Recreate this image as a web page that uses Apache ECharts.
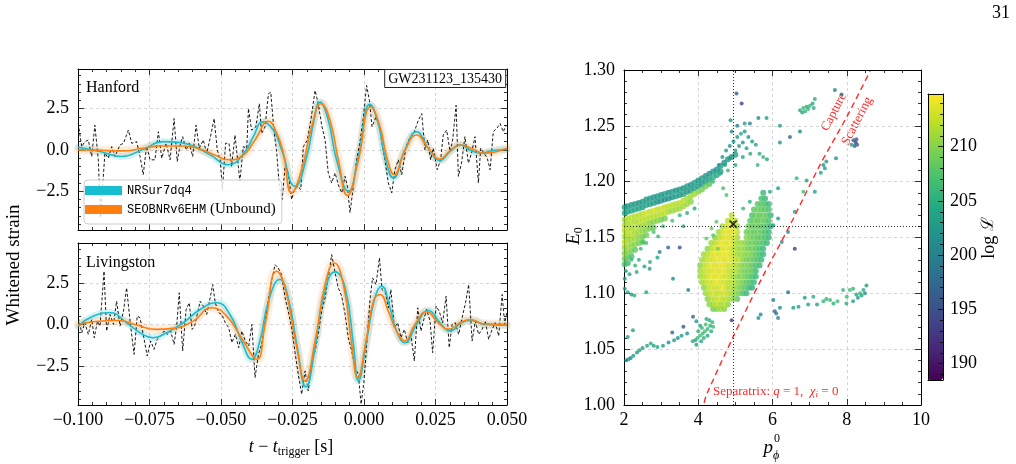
<!DOCTYPE html>
<html lang="en">
<head>
<meta charset="UTF-8">
<title>GW231123 whitened strain and E0 vs p_phi</title>
<style>
  html, body { margin: 0; padding: 0; background: #fff; }
  #main { width: 1016px; height: 464px; }
</style>
</head>
<body>
<div id="main"></div>
<script src="https://cdn.jsdelivr.net/npm/echarts@6/dist/echarts.min.js"></script>
<script>
// ---- waveform panels (time in ms, strain in whitened units) ----
var tHanford = [-99.9,-98.7,-97.6,-96.4,-95.2,-94.1,-92.9,-92.1,-90.6,-89.4,-88.2,-87.1,-85.3,-84.1,-82.4,-81.2,-79.5,-78.3,-77.2,-76.0,-74.8,-73.1,-71.9,-70.7,-69.2,-67.8,-66.4,-65.3,-64.3,-63.4,-62.2,-61.1,-59.9,-58.7,-57.6,-56.2,-55.0,-53.8,-52.4,-51.3,-50.3,-49.5,-48.4,-47.2,-46.3,-45.1,-43.4,-42.2,-41.0,-40.4,-39.3,-37.8,-36.6,-35.8,-34.6,-33.4,-32.6,-31.5,-30.5,-29.6,-28.6,-27.6,-26.5,-25.3,-24.5,-23.3,-22.1,-21.2,-19.8,-18.6,-17.1,-16.0,-14.8,-13.6,-12.5,-11.3,-10.1,-9.0,-7.8,-6.6,-5.8,-4.9,-3.7,-2.6,-1.4,-0.2,0.9,1.9,2.8,4.2,5.4,6.3,7.3,8.5,9.7,10.8,12.0,13.2,14.7,15.9,17.0,18.2,19.0,20.2,21.3,22.3,23.3,24.2,25.6,26.8,27.7,28.9,30.1,31.0,32.2,33.0,34.1,35.3,36.5,37.6,38.8,40.0,40.8,42.0,43.1,44.1,45.2,46.4,47.6,48.7,49.7];
var hHanford = [1.6,0.2,0.5,0.6,-0.4,1.5,-0.6,-4.1,-0.2,-0.5,0.2,-0.4,0.3,0.4,1.2,0.4,0.5,-0.4,-1.5,0.24,-0.6,-0.6,1.1,-0.5,0.4,-0.6,1.9,-0.7,0.3,0.8,0,0.4,-0.4,1.5,0.1,0.6,-0.2,0.7,1.9,0,-0.6,-2.4,0.4,0.4,-1.0,0.9,-1.9,0.2,0.1,2.5,1.2,1.4,2.8,1.0,1.4,3.4,3.5,1.2,-0.2,-2.2,-3.0,-1.0,-1.4,-3.0,-2.5,-2.2,-2.4,0.2,0.6,1.8,3.6,2.8,1.5,0.6,-1.4,-2.0,-1.4,-2.1,-2.6,-1.6,-2.2,-3.8,-2.2,-0.6,0.5,2.0,3.9,3.0,1.4,2.0,1.4,0.4,-0.6,-2.0,-2.6,-1.2,-0.6,-1.5,0.2,0.7,0.8,1.4,1.8,2.2,0,0.6,-0.6,0.1,-1.2,-0.6,0.9,1.2,-0.1,0.6,2.7,-1.6,-0.8,0.8,-0.8,-0.2,0.8,-2.0,0.1,-0.2,-0.5,-1.2,1.1,1.3,1.6,1.1,1.5];
var tLivingston = [-99.9,-98.7,-97.6,-96.4,-95.2,-94.3,-93.2,-92.3,-90.9,-90.0,-88.8,-87.6,-86.5,-85.3,-84.1,-83.0,-81.8,-80.4,-79.3,-78.3,-77.2,-75.8,-74.6,-73.4,-72.3,-71.1,-69.9,-68.8,-67.6,-66.4,-65.5,-64.6,-63.4,-62.2,-61.1,-60.1,-59.2,-58.3,-57.3,-56.2,-55.0,-53.8,-52.9,-52.0,-50.8,-49.7,-48.5,-47.3,-46.2,-45.0,-43.8,-42.7,-41.5,-40.3,-39.2,-38.1,-36.9,-35.8,-34.6,-33.4,-32.3,-31.1,-30.0,-28.8,-27.6,-26.5,-25.3,-24.1,-23.0,-21.8,-20.6,-19.5,-18.3,-17.1,-16.0,-14.8,-13.6,-12.5,-11.3,-10.1,-9.0,-7.8,-6.6,-5.5,-4.3,-3.1,-2.0,-1.0,0.0,1.2,2.1,3.0,4.2,5.4,6.3,7.5,8.5,9.4,10.6,11.8,12.9,14.1,15.3,16.4,17.6,18.8,19.9,21.1,21.9,23.1,24.0,25.2,26.3,27.5,28.7,29.8,30.8,31.9,33.1,34.3,35.5,36.6,37.8,38.9,40.1,41.3,42.4,43.6,44.8,45.9,47.1,48.3,49.2,49.9];
var hLivingston = [0.4,-0.5,0.1,-0.6,0.3,-0.8,0.2,-0.1,3.2,-0.4,0.6,0,1.4,-0.1,0.8,2.2,0.2,-1.8,0.5,0.4,-0.6,-1.9,-1.0,-1.5,-0.9,-0.7,-0.4,-0.6,-0.4,-1.2,-0.1,1.9,-1.6,0.9,1.3,-0.3,-0.1,0.6,1.4,1.1,0.6,1.6,2.4,1.3,0.7,0.6,0.1,-0.2,-1.1,-0.6,-1.4,-0.4,-1.0,-1.3,0,-3.2,-1.8,-1.2,0.1,1.6,2.6,3.6,3.4,3.0,1.6,0.8,-0.2,-1.7,-3.0,-4.2,-2.8,-4.0,-2.4,-1.6,-0.6,0.8,1.6,2.8,4.2,3.1,2.2,1.7,0.6,-0.8,-1.6,-2.6,-3.0,-4.8,-3.4,-0.6,1.5,2.8,2.4,4.0,2.1,1.9,1.0,2.1,-0.2,0.1,-0.8,-0.3,-1.1,-0.6,-2.2,1.0,-0.4,0.4,0.9,0.2,-1.7,1.1,0.8,0.1,1.7,-1.4,0,0.1,-0.6,0.4,1.3,2.4,-1.0,0.2,-0.6,-0.3,0.2,-0.9,-0.3,0.1,-0.7,1.8,0,0.7];

// model medians [t ms, strain]
var nrHanford = [[-99.9,0.16],[-92.3,-0.1],[-84.7,-0.4],[-77.2,0.04],[-70.2,0.5],[-64.3,0.44],[-59.7,0.24],[-53.8,-0.3],[-47.4,-0.9],[-41.6,-0.1],[-38.7,0.8],[-35.4,1.7],[-31.7,1.2],[-28.8,0],[-24.1,-2.2],[-20.0,-0.4],[-17.7,1.6],[-15.4,2.9],[-12.5,1.8],[-9.6,-0.6],[-5.4,-2.5],[-2.0,-0.4],[2.1,2.76],[5.0,1.6],[7.3,-0.4],[10.3,-1.7],[14.3,0],[18.4,1.1],[22.5,0.1],[26.6,-0.64],[30.1,-0.1],[33.6,0.3],[37.1,0],[40.6,-0.2],[45.2,-0.04],[49.9,0.04]];
var seobHanford = [[-99.9,0],[-92.3,-0.02],[-84.7,-0.06],[-77.2,0.1],[-71.3,0.24],[-63.2,0.24],[-57.3,0.04],[-51.5,-0.36],[-47.4,-0.6],[-42.8,-0.4],[-38.1,0.6],[-33.4,1.74],[-30.5,1.0],[-28.2,-0.2],[-25.3,-2.6],[-21.8,-1.2],[-18.3,1.4],[-15.0,2.8],[-11.9,1.8],[-9.0,-0.6],[-5.8,-2.76],[-2.2,-0.8],[2.4,2.6],[5.6,1.4],[7.9,-0.4],[10.6,-1.5],[14.3,-0.04],[18.4,0.9],[22.5,0.1],[26.6,-0.56],[30.1,-0.04],[33.6,0.3],[38.2,0.04],[41.7,-0.2],[49.9,0.1]];
var nrLivingston = [[-99.9,-0.1],[-94.6,0.5],[-88.8,0.7],[-83.0,0.1],[-78.3,-0.5],[-73.7,-0.8],[-69.0,-0.5],[-63.2,0.1],[-57.3,0.9],[-51.5,1.3],[-46.9,0.6],[-42.8,-1.0],[-39.3,-2.1],[-36.4,-1.0],[-33.4,1.4],[-29.4,2.7],[-26.5,1.6],[-23.5,-1.2],[-20.3,-3.76],[-17.1,-1.4],[-14.2,1.6],[-10.1,3.16],[-6.6,2.2],[-3.7,-1.2],[-2.0,-3.4],[0.9,-1.0],[3.8,1.6],[6.2,2.3],[9.1,1.0],[11.4,-0.4],[14.3,-1.1],[18.4,0],[22.5,0.84],[26.6,0.1],[30.1,-0.4],[34.1,0.1],[37.6,0.24],[42.3,0],[49.9,-0.04]];
var seobLivingston = [[-99.9,0],[-94.6,0.16],[-85.9,0.24],[-79.5,-0.04],[-72.5,-0.3],[-66.7,-0.24],[-59.7,0.2],[-53.3,1.0],[-48.0,0.5],[-42.2,-1.0],[-37.5,-2.1],[-34.6,0],[-30.5,3.2],[-27.6,2.2],[-23.5,-1.4],[-20.6,-3.4],[-17.1,-1.0],[-13.6,2.4],[-10.4,3.7],[-7.2,2.4],[-4.3,-1.2],[-2.2,-3.2],[0.7,-1.0],[3.3,1.4],[5.6,1.8],[8.5,0.8],[11.4,-0.4],[14.3,-1.0],[17.8,0],[21.9,0.76],[26.0,0.1],[29.5,-0.3],[33.6,0.1],[37.1,0.3],[41.7,0.04],[49.9,0]];

var strainTicks = [-2.5, 0, 2.5];
var strainMinor = [-4.5,-4,-3.5,-3,-2,-1.5,-1,-0.5,0.5,1,1.5,2,3,3.5,4,4.5];

// ---- posterior samples [p_phi, E0, logL] ----
var bandPts = [
  [2.02,1.177,203],[2.02,1.172,204],[2.02,1.166,211],[2.02,1.161,212],[2.02,1.156,212],[2.02,1.151,211],[2.02,1.146,212],[2.02,1.141,211],[2.02,1.136,210],[2.02,1.131,209],[2.02,1.126,207],
  [2.1,1.178,203],[2.1,1.173,204],[2.1,1.167,212],[2.1,1.162,211],[2.1,1.157,212],[2.1,1.152,212],[2.1,1.147,211],[2.1,1.142,211],[2.1,1.137,210],[2.1,1.132,208],[2.1,1.127,206],
  [2.2,1.179,202],[2.2,1.174,204],[2.2,1.168,212],[2.2,1.163,212],[2.2,1.158,211],[2.2,1.153,212],[2.2,1.148,211],[2.2,1.143,210],[2.2,1.138,209],[2.2,1.133,207],
  [2.3,1.180,203],[2.3,1.175,204],[2.3,1.169,212],[2.3,1.164,211],[2.3,1.159,212],[2.3,1.154,211],[2.3,1.149,211],[2.3,1.144,210],[2.3,1.139,208],
  [2.4,1.181,202],[2.4,1.176,204],[2.4,1.170,212],[2.4,1.165,212],[2.4,1.160,211],[2.4,1.155,211],[2.4,1.150,210],[2.4,1.145,209],
  [2.5,1.182,203],[2.5,1.177,203],[2.5,1.171,212],[2.5,1.166,212],[2.5,1.161,211],[2.5,1.156,210],[2.5,1.151,209],[2.5,1.146,208],
  [2.6,1.184,202],[2.6,1.179,204],[2.6,1.172,213],[2.6,1.167,212],[2.6,1.162,211],[2.6,1.157,210],[2.6,1.152,209],
  [2.7,1.185,203],[2.7,1.180,203],[2.7,1.173,212],[2.7,1.168,212],[2.7,1.163,210],[2.7,1.158,209],
  [2.8,1.186,202],[2.8,1.181,203],[2.8,1.174,213],[2.8,1.169,212],[2.8,1.164,210],[2.8,1.159,209],
  [2.9,1.187,203],[2.9,1.182,201],[2.9,1.175,212],[2.9,1.170,212],[2.9,1.165,210],
  [3.0,1.188,202],[3.0,1.183,202],[3.0,1.176,213],[3.0,1.171,212],[3.0,1.166,209],
  [3.1,1.189,203],[3.1,1.184,201],[3.1,1.177,212],[3.1,1.172,212],[3.1,1.167,209],
  [3.2,1.190,202],[3.2,1.185,202],[3.2,1.178,212],[3.2,1.173,211],
  [3.3,1.191,203],[3.3,1.186,202],[3.3,1.179,212],[3.3,1.174,211],
  [3.4,1.192,202],[3.4,1.187,203],[3.4,1.180,212],[3.4,1.175,211],
  [3.5,1.193,203],[3.5,1.188,202],[3.5,1.181,212],[3.5,1.176,211],
  [3.6,1.194,202],[3.6,1.189,203],[3.6,1.183,212],[3.6,1.178,211],
  [3.7,1.196,203],[3.7,1.191,202],[3.7,1.185,211],[3.7,1.180,211],
  [3.8,1.197,202],[3.8,1.192,203],[3.8,1.187,211],[3.8,1.182,210],
  [3.9,1.199,203],[3.9,1.194,203],[3.9,1.189,211],
  [4.0,1.201,202],[4.0,1.196,203],[4.0,1.191,210],
  [4.1,1.203,203],[4.1,1.198,202],[4.1,1.193,209],
  [4.2,1.205,202],[4.2,1.200,203],[4.2,1.196,209],
  [4.3,1.207,202],[4.3,1.202,204],[4.3,1.198,208],
  [4.4,1.209,202],[4.4,1.204,205],
  [4.5,1.211,202],[4.5,1.206,204],
  [4.6,1.214,203],[4.6,1.209,203],
  [4.7,1.217,202],[4.8,1.220,203],[4.9,1.222,202],[5.0,1.224,203]
];
var mainBlobPts = [
  [4.9,1.170,212],
  [4.8,1.165,212],[4.9,1.165,213],[5.0,1.165,212],
  [4.65,1.160,211],[4.75,1.160,213],[4.85,1.160,214],[4.95,1.160,213],[5.05,1.160,211],
  [4.55,1.155,211],[4.65,1.155,213],[4.75,1.155,214],[4.85,1.155,213],[4.95,1.155,214],[5.05,1.155,212],
  [4.45,1.150,210],[4.55,1.150,212],[4.65,1.150,213],[4.75,1.150,214],[4.85,1.150,213],[4.95,1.150,213],[5.05,1.150,211],
  [4.35,1.145,211],[4.45,1.145,212],[4.55,1.145,213],[4.65,1.145,214],[4.75,1.145,213],[4.85,1.145,214],[4.95,1.145,212],[5.05,1.145,211],
  [4.25,1.140,210],[4.35,1.140,212],[4.45,1.140,213],[4.55,1.140,214],[4.65,1.140,213],[4.75,1.140,214],[4.85,1.140,213],[4.95,1.140,212],[5.05,1.140,211],
  [4.15,1.135,211],[4.25,1.135,212],[4.35,1.135,213],[4.45,1.135,214],[4.55,1.135,213],[4.65,1.135,214],[4.75,1.135,214],[4.85,1.135,213],[4.95,1.135,212],[5.05,1.135,211],
  [4.1,1.130,211],[4.2,1.130,212],[4.3,1.130,213],[4.4,1.130,213],[4.5,1.130,214],[4.6,1.130,214],[4.7,1.130,213],[4.8,1.130,214],[4.9,1.130,213],[5.0,1.130,212],
  [4.05,1.125,210],[4.15,1.125,212],[4.25,1.125,213],[4.35,1.125,214],[4.45,1.125,213],[4.55,1.125,214],[4.65,1.125,214],[4.75,1.125,213],[4.85,1.125,213],[4.95,1.125,212],
  [4.05,1.120,211],[4.15,1.120,212],[4.25,1.120,213],[4.35,1.120,213],[4.45,1.120,214],[4.55,1.120,213],[4.65,1.120,214],[4.75,1.120,213],[4.85,1.120,212],[4.95,1.120,212],
  [4.05,1.115,211],[4.15,1.115,212],[4.25,1.115,213],[4.35,1.115,214],[4.45,1.115,213],[4.55,1.115,214],[4.65,1.115,213],[4.75,1.115,213],[4.85,1.115,212],[4.95,1.115,211],
  [4.1,1.110,211],[4.2,1.110,212],[4.3,1.110,213],[4.4,1.110,213],[4.5,1.110,214],[4.6,1.110,213],[4.7,1.110,213],[4.8,1.110,212],[4.9,1.110,212],
  [4.15,1.105,210],[4.25,1.105,212],[4.35,1.105,213],[4.45,1.105,213],[4.55,1.105,213],[4.65,1.105,214],[4.75,1.105,212],[4.85,1.105,212],[4.95,1.105,211],
  [4.2,1.100,211],[4.3,1.100,212],[4.4,1.100,213],[4.5,1.100,212],[4.6,1.100,213],[4.7,1.100,213],[4.8,1.100,212],[4.9,1.100,211],
  [4.25,1.095,210],[4.35,1.095,212],[4.45,1.095,212],[4.55,1.095,213],[4.65,1.095,212],[4.75,1.095,212],[4.85,1.095,211],
  [4.3,1.090,210],[4.4,1.090,211],[4.5,1.090,212],[4.6,1.090,211],[4.7,1.090,212],[4.8,1.090,210],
  [4.4,1.086,209],[4.5,1.086,210],[4.6,1.086,211],[4.7,1.086,210]
];
var rightBlobPts = [
  [5.75,1.190,206],
  [5.7,1.185,207],[5.8,1.185,206],
  [5.6,1.180,208],[5.7,1.180,208],[5.8,1.180,207],[5.9,1.180,206],
  [5.5,1.175,208],[5.6,1.175,209],[5.7,1.175,208],[5.8,1.175,208],[5.9,1.175,207],
  [5.45,1.170,207],[5.55,1.170,209],[5.65,1.170,208],[5.75,1.170,209],[5.85,1.170,208],[5.95,1.170,206],
  [5.4,1.165,208],[5.5,1.165,209],[5.6,1.165,208],[5.7,1.165,209],[5.8,1.165,208],[5.9,1.165,207],
  [5.35,1.160,209],[5.45,1.160,208],[5.55,1.160,209],[5.65,1.160,208],[5.75,1.160,208],[5.85,1.160,207],[5.95,1.160,205],
  [5.3,1.155,209],[5.4,1.155,209],[5.5,1.155,208],[5.6,1.155,209],[5.7,1.155,208],[5.8,1.155,207],[5.9,1.155,206],
  [5.3,1.150,210],[5.4,1.150,209],[5.5,1.150,209],[5.6,1.150,208],[5.7,1.150,208],[5.8,1.150,207],[5.9,1.150,206],
  [5.15,1.145,211],[5.25,1.145,210],[5.35,1.145,209],[5.45,1.145,209],[5.55,1.145,208],[5.65,1.145,208],[5.75,1.145,207],[5.85,1.145,206],
  [5.15,1.140,211],[5.25,1.140,210],[5.35,1.140,209],[5.45,1.140,209],[5.55,1.140,208],[5.65,1.140,207],[5.75,1.140,206],
  [5.15,1.135,211],[5.25,1.135,210],[5.35,1.135,210],[5.45,1.135,209],[5.55,1.135,208],[5.65,1.135,207],[5.75,1.135,206],
  [5.1,1.130,212],[5.2,1.130,210],[5.3,1.130,209],[5.4,1.130,209],[5.5,1.130,208],[5.6,1.130,207],[5.7,1.130,206],
  [5.05,1.125,211],[5.15,1.125,210],[5.25,1.125,210],[5.35,1.125,209],[5.45,1.125,208],[5.55,1.125,207],[5.65,1.125,206],
  [5.05,1.120,211],[5.15,1.120,210],[5.25,1.120,209],[5.35,1.120,209],[5.45,1.120,208],[5.55,1.120,206],
  [5.05,1.115,210],[5.15,1.115,210],[5.25,1.115,209],[5.35,1.115,208],[5.45,1.115,207],[5.55,1.115,206],
  [5.0,1.110,211],[5.1,1.110,210],[5.2,1.110,209],[5.3,1.110,208],[5.4,1.110,207],[5.5,1.110,206],
  [5.05,1.105,210],[5.15,1.105,209],[5.25,1.105,208],[5.35,1.105,206],[5.45,1.105,205],
  [5.0,1.100,210],[5.1,1.100,209],[5.2,1.100,207],[5.3,1.100,206],
  [4.95,1.095,210],[5.05,1.095,208]
];
var sparsePts = [
  [5.03,1.279,196],[5.17,1.270,194],[4.87,1.255,202],[5.62,1.257,201],[5.84,1.257,203],[5.39,1.252,200],[6.20,1.250,203],[6.47,1.240,197],[6.74,1.245,201],[6.20,1.235,202],[7.68,1.282,200],[7.86,1.278,199],
  [6.74,1.264,205],[6.83,1.266,206],[6.92,1.267,205],[7.01,1.268,206],[7.08,1.270,204],[7.14,1.274,205],[6.96,1.265,206],[7.11,1.266,205],[6.80,1.262,204],[6.88,1.263,206],
  [8.18,1.237,196],[8.24,1.235,195],[8.28,1.233,196],[8.21,1.232,197],[8.26,1.238,196],[8.13,1.233,203],
  [7.37,1.215,202],[7.41,1.212,203],[7.71,1.221,202],[7.30,1.208,204],[7.45,1.218,203],
  [6.65,1.203,206],[6.92,1.201,204],[7.14,1.191,203],[6.83,1.191,207],[6.60,1.173,204],[6.60,1.140,193],
  [6.15,1.194,203],[5.93,1.191,204],[6.15,1.167,203],[6.02,1.161,204],[6.25,1.146,202],[6.42,1.155,203],[5.39,1.182,205],[5.21,1.176,206],
  [4.55,1.215,203],[4.65,1.222,202],[4.75,1.228,203],[4.85,1.232,202],[4.95,1.236,203],[5.05,1.240,202],[5.15,1.243,204],[5.25,1.245,203],[5.35,1.240,202],[5.45,1.236,203],[5.55,1.233,204],[5.65,1.225,205],[5.75,1.222,206],[5.85,1.220,204],
  [4.72,1.215,204],[4.85,1.221,203],[5.0,1.228,204],[5.1,1.232,203],[5.2,1.235,202],[5.3,1.230,204],[4.9,1.245,201],[5.05,1.250,200],[5.25,1.252,203],[4.6,1.207,205],[4.8,1.210,206],[5.0,1.215,205],[5.2,1.222,204],[5.4,1.225,205],[5.6,1.215,206],
  [4.67,1.194,207],[4.40,1.200,206],[4.76,1.188,207],[4.49,1.164,208],[4.36,1.158,209],[4.40,1.152,208],[4.53,1.140,209],[4.22,1.149,208],
  [3.19,1.141,197],[3.50,1.141,195],[2.96,1.137,200],[2.69,1.122,203],[2.34,1.119,205],[2.60,1.101,204],[2.20,1.099,203],[2.10,1.101,204],[2.28,1.098,205],[2.02,1.104,202],[3.32,1.113,201],[3.73,1.103,200],[2.92,1.151,206],[2.51,1.146,207],
  [2.05,1.120,205],[2.15,1.117,204],[2.3,1.125,206],[2.02,1.113,203],[2.2,1.130,206],[2.45,1.140,206],[2.6,1.145,207],[2.8,1.155,207],[2.55,1.124,204],[2.7,1.128,205],[2.4,1.130,205],[3.05,1.160,206],[3.3,1.165,207],[3.5,1.170,206],[3.7,1.172,205],[3.9,1.176,204],[3.6,1.160,205],[2.9,1.132,204],
  [3.85,1.057,205],[3.92,1.058,204],[3.98,1.060,206],[4.05,1.062,207],[4.12,1.064,206],[4.18,1.066,207],[4.25,1.068,206],[4.32,1.071,205],[4.38,1.074,206],[4.0,1.066,205],[4.1,1.069,206],[4.2,1.072,207],[4.3,1.076,205],[3.95,1.054,203],[4.08,1.057,204],[4.15,1.060,205],[4.25,1.062,204],[4.35,1.066,205],[4.4,1.070,206],[4.05,1.071,204],[4.22,1.077,205],
  [2.06,1.040,201],[2.12,1.041,202],[2.18,1.042,200],[2.25,1.044,203],[2.35,1.047,202],[2.42,1.049,204],[2.5,1.051,203],[2.62,1.053,204],[2.72,1.055,205],[2.8,1.053,203],[2.9,1.052,204],[3.05,1.053,203],[3.2,1.056,202],[3.35,1.058,203],[3.45,1.060,201],[3.55,1.062,203],[3.7,1.064,202],[2.1,1.061,203],[2.24,1.067,204],[3.3,1.065,197],[3.6,1.070,196],
  [4.90,1.076,193],[3.86,1.079,197],[3.95,1.075,203],
  [5.62,1.078,202],[5.68,1.081,201],[6.02,1.094,200],[6.06,1.084,197],[6.10,1.082,199],[6.20,1.087,201],[6.42,1.101,198],[6.15,1.078,200],
  [6.56,1.087,203],[6.70,1.088,204],[6.87,1.096,203],[7.10,1.097,205],[6.96,1.090,204],[7.37,1.093,206],[7.55,1.094,206],[7.64,1.091,205],[7.75,1.093,207],[7.90,1.103,206],[8.08,1.103,207],[8.17,1.104,206],[7.99,1.091,205],[8.26,1.099,204],[8.36,1.100,206],[8.45,1.103,205],[8.53,1.107,203],[8.30,1.096,203],[8.17,1.093,204],[8.49,1.100,202],[7.45,1.095,205],[7.20,1.090,204],[8.00,1.097,206],[8.40,1.098,204]
];
var maxLikePoint = [4.94, 1.162];
var sepP = [4.16, 4.22, 4.94, 5.66, 6.47, 7.28, 8.00, 8.63];
var sepE = [1.002, 1.009, 1.061, 1.110, 1.161, 1.215, 1.258, 1.299];
var logLTicks = [190, 195, 200, 205, 210];
var logLMinor = [189,191,192,193,194,196,197,198,199,201,202,203,204,206,207,208,209,211,212,213,214];
var VIRIDIS = ['#440154','#482475','#414487','#355f8d','#2a788e','#21918c','#22a884','#44bf70','#7ad151','#bddf26','#fde725'];

var SERIF = '"Liberation Serif", "DejaVu Serif", serif';
var MONO = '"Liberation Mono", "DejaVu Sans Mono", monospace';
var CYAN = '#17becf', ORANGE = '#ff7f0e', RED = '#ff2a2a';

function zip(a, b) { return a.map(function (v, i) { return [v, b[i]]; }); }
function minus(s) { return s.charAt(0) === '-' ? '\u2212' + s.slice(1) : s; }
var dashGrid = { show: true, lineStyle: { color: '#cccccc', width: 0.8, type: [3, 3] } };
var blackLine = { show: true, onZero: false, lineStyle: { color: '#000', width: 1 } };
var noLine = { show: false, onZero: false };
var tickStyle = { color: '#000', width: 0.8 };
var labelStyle = { fontFamily: SERIF, fontSize: 18, color: '#000' };

var xAxes = [], yAxes = [];
function addX(o) { xAxes.push(o); return xAxes.length - 1; }
function addY(o) { yAxes.push(o); return yAxes.length - 1; }

// time axes + custom strain ticks for one waveform panel
function wavePanel(g, showX) {
  var xi = addX({
    gridIndex: g, type: 'value', position: 'bottom', min: -100, max: 50, interval: 25,
    axisLine: blackLine,
    axisTick: { inside: true, length: 6, lineStyle: tickStyle },
    minorTick: { show: true, splitNumber: 5, length: 3, lineStyle: tickStyle },
    splitLine: dashGrid,
    axisLabel: Object.assign({ show: showX, margin: 6, formatter: function (v) { return minus((v / 1000).toFixed(3)); } }, labelStyle)
  });
  addX({
    gridIndex: g, type: 'value', position: 'top', min: -100, max: 50, interval: 25,
    axisLine: blackLine,
    axisTick: { inside: true, length: 6, lineStyle: tickStyle },
    minorTick: { show: true, splitNumber: 5, length: 3, lineStyle: tickStyle },
    splitLine: { show: false }, axisLabel: { show: false }
  });
  var yi = -1;
  ['left', 'right'].forEach(function (side) {
    var idx = addY({
      gridIndex: g, type: 'value', position: side, min: -4.85, max: 4.9,
      axisLine: blackLine,
      axisTick: { inside: true, length: 6, lineStyle: tickStyle, customValues: strainTicks },
      splitLine: side === 'left' ? dashGrid : { show: false },
      axisLabel: Object.assign({ show: side === 'left', margin: 9, customValues: strainTicks,
        formatter: function (v) { return minus(v.toFixed(1)); } }, labelStyle)
    });
    if (side === 'left') yi = idx;
    addY({
      gridIndex: g, type: 'value', position: side, min: -4.85, max: 4.9,
      axisLine: noLine,
      axisTick: { inside: true, length: 3, lineStyle: tickStyle, customValues: strainMinor },
      splitLine: { show: false }, axisLabel: { show: false }
    });
  });
  return { x: xi, y: yi };
}

var top = wavePanel(0, false);
var bot = wavePanel(1, true);

// scatter panel axes
var sx = addX({
  gridIndex: 2, type: 'value', position: 'bottom', min: 2, max: 10, interval: 2,
  axisLine: blackLine,
  axisTick: { inside: true, length: 6, lineStyle: tickStyle },
  minorTick: { show: true, splitNumber: 4, length: 3, lineStyle: tickStyle },
  splitLine: dashGrid,
  axisLabel: Object.assign({ margin: 6 }, labelStyle)
});
addX({
  gridIndex: 2, type: 'value', position: 'top', min: 2, max: 10, interval: 2,
  axisLine: blackLine,
  axisTick: { inside: true, length: 6, lineStyle: tickStyle },
  minorTick: { show: true, splitNumber: 4, length: 3, lineStyle: tickStyle },
  splitLine: { show: false }, axisLabel: { show: false }
});
var sy = addY({
  gridIndex: 2, type: 'value', position: 'left', min: 1.0, max: 1.3, interval: 0.05,
  axisLine: blackLine,
  axisTick: { inside: true, length: 6, lineStyle: tickStyle },
  minorTick: { show: true, splitNumber: 5, length: 3, lineStyle: tickStyle },
  splitLine: dashGrid,
  axisLabel: Object.assign({ margin: 9, formatter: function (v) { return v.toFixed(2); } }, labelStyle)
});
addY({
  gridIndex: 2, type: 'value', position: 'right', min: 1.0, max: 1.3, interval: 0.05,
  axisLine: blackLine,
  axisTick: { inside: true, length: 6, lineStyle: tickStyle },
  minorTick: { show: true, splitNumber: 5, length: 3, lineStyle: tickStyle },
  splitLine: { show: false }, axisLabel: { show: false }
});

// colorbar frame and ticks
['bottom', 'top'].forEach(function (side) {
  addX({ gridIndex: 3, type: 'value', position: side, min: 0, max: 1, z: 10,
    axisLine: blackLine, axisTick: { show: false }, axisLabel: { show: false }, splitLine: { show: false } });
});
addY({ gridIndex: 3, type: 'value', position: 'left', min: 0, max: 1, z: 10,
  axisLine: blackLine, axisTick: { show: false }, axisLabel: { show: false }, splitLine: { show: false } });
addY({ gridIndex: 3, type: 'value', position: 'right', min: 188.5, max: 214.85, z: 10,
  axisLine: blackLine,
  axisTick: { inside: true, length: 5, lineStyle: tickStyle, customValues: logLTicks },
  splitLine: { show: false },
  axisLabel: Object.assign({ margin: 7, customValues: logLTicks }, labelStyle) });
addY({ gridIndex: 3, type: 'value', position: 'right', min: 188.5, max: 214.85, z: 10,
  axisLine: noLine,
  axisTick: { inside: true, length: 3, lineStyle: tickStyle, customValues: logLMinor },
  splitLine: { show: false }, axisLabel: { show: false } });

var series = [];
function waveSeries(ax, t, h, nr, seob) {
  var common = { type: 'line', xAxisIndex: ax.x, yAxisIndex: ax.y, showSymbol: false, animation: false };
  series.push(Object.assign({}, common, { name: 'nr-band', data: nr, smooth: 0.5, silent: true, z: 1,
    lineStyle: { color: CYAN, width: 7, opacity: 0.18, cap: 'round', join: 'round' } }));
  series.push(Object.assign({}, common, { name: 'seob-band', data: seob, smooth: 0.5, silent: true, z: 1,
    lineStyle: { color: ORANGE, width: 9, opacity: 0.14, cap: 'round', join: 'round' } }));
  series.push(Object.assign({}, common, { name: 'data', data: zip(t, h), z: 2,
    lineStyle: { color: '#000', width: 0.9, type: [3, 2] } }));
  series.push(Object.assign({}, common, { name: 'NRSur7dq4', data: nr, smooth: 0.5, z: 3,
    itemStyle: { color: CYAN }, lineStyle: { color: CYAN, width: 1.6 } }));
  series.push(Object.assign({}, common, { name: 'SEOBNRv6EHM (Unbound)', data: seob, smooth: 0.5, z: 4,
    itemStyle: { color: ORANGE }, lineStyle: { color: ORANGE, width: 1.6 } }));
}
waveSeries(top, tHanford, hHanford, nrHanford, seobHanford);
waveSeries(bot, tLivingston, hLivingston, nrLivingston, seobLivingston);

function byLogL(a, b) { return a[2] - b[2]; }
var iDense = series.length;
series.push({ type: 'scatter', xAxisIndex: sx, yAxisIndex: sy, symbolSize: 6, z: 2,
  data: bandPts.concat(mainBlobPts, rightBlobPts).sort(byLogL) });
var iSparse = series.length;
series.push({ type: 'scatter', xAxisIndex: sx, yAxisIndex: sy, symbolSize: 4, z: 2,
  data: sparsePts.slice().sort(byLogL) });
series.push({ type: 'line', xAxisIndex: sx, yAxisIndex: sy, data: zip(sepP, sepE), smooth: 0.3,
  showSymbol: false, z: 4, lineStyle: { color: RED, width: 1.4, type: [6, 4] } });
series.push({ type: 'scatter', xAxisIndex: sx, yAxisIndex: sy, data: [maxLikePoint], z: 5,
  symbol: 'path://M0,0L10,10M10,0L0,10', symbolSize: 7,
  itemStyle: { color: 'rgba(0,0,0,0)', borderColor: '#000', borderWidth: 1.6 },
  markLine: { silent: true, symbol: ['none', 'none'], label: { show: false },
    lineStyle: { color: '#000', width: 0.8, type: [1, 2] },
    data: [{ xAxis: maxLikePoint[0] }, { yAxis: maxLikePoint[1] }] } });

var chart = echarts.init(document.getElementById('main'));
chart.setOption({
  animation: false,
  backgroundColor: '#fff',
  textStyle: { fontFamily: SERIF },
  grid: [
    { left: 78, top: 69, width: 429, height: 161 },
    { left: 78, top: 243, width: 429, height: 162 },
    { left: 624, top: 70, width: 297, height: 335 },
    { left: 928, top: 94, width: 15, height: 286 }
  ],
  xAxis: xAxes,
  yAxis: yAxes,
  title: {
    text: 'GW231123_135430', right: 510, top: 69, padding: [3, 4, 2, 4],
    borderColor: '#222', borderWidth: 1, backgroundColor: '#fff',
    textStyle: { fontFamily: SERIF, fontSize: 14, fontWeight: 'normal', color: '#000' }
  },
  legend: {
    data: ['NRSur7dq4', 'SEOBNRv6EHM (Unbound)'],
    orient: 'vertical', left: 84, top: 180, icon: 'rect', itemWidth: 37, itemHeight: 9, itemGap: 4,
    padding: [3, 6, 7, 1], backgroundColor: 'rgba(255,255,255,0.8)', borderColor: '#cccccc', borderWidth: 1, borderRadius: 4,
    formatter: function (name) {
      return name === 'NRSur7dq4' ? '{m|NRSur7dq4}' : '{m|SEOBNRv6EHM}{s| (Unbound)}';
    },
    textStyle: {
      color: '#000', lineHeight: 15,
      rich: {
        m: { fontFamily: MONO, fontSize: 12, color: '#000', lineHeight: 15 },
        s: { fontFamily: SERIF, fontSize: 15, color: '#000', lineHeight: 15 }
      }
    }
  },
  visualMap: {
    type: 'continuous', min: 188.5, max: 214.85, dimension: 2, seriesIndex: [iDense, iSparse],
    inRange: { color: VIRIDIS }, left: 928, top: 94, itemWidth: 15, itemHeight: 286,
    padding: 0, calculable: false, hoverLink: false, z: 3
  },
  graphic: [
    { type: 'text', x: 86, y: 88, style: { text: 'Hanford', fontFamily: SERIF, fontSize: 16, fill: '#000', verticalAlign: 'middle' } },
    { type: 'text', x: 86, y: 263, style: { text: 'Livingston', fontFamily: SERIF, fontSize: 16, fill: '#000', verticalAlign: 'middle' } },
    { type: 'text', x: 14, y: 265, rotation: Math.PI / 2,
      style: { text: 'Whitened strain', fontFamily: SERIF, fontSize: 19, fill: '#000', align: 'center', verticalAlign: 'middle' } },
    { type: 'text', x: 291, y: 447,
      style: { text: '{i|t} \u2212 {i|t}{s|trigger} [s]', fontFamily: SERIF, fontSize: 18, fill: '#000', align: 'center', verticalAlign: 'middle',
        rich: { i: { fontFamily: SERIF, fontSize: 18, fontStyle: 'italic', fill: '#000' },
                s: { fontFamily: SERIF, fontSize: 12, fill: '#000', padding: [10, 0, 0, 0] } } } },
    { type: 'text', x: 773, y: 448, style: { text: 'p', fontFamily: SERIF, fontSize: 19, fontStyle: 'italic', fill: '#000', align: 'right', verticalAlign: 'middle' } },
    { type: 'text', x: 774, y: 439, style: { text: '0', fontFamily: SERIF, fontSize: 12, fill: '#000', verticalAlign: 'middle' } },
    { type: 'text', x: 773, y: 456, style: { text: '\u03d5', fontFamily: SERIF, fontSize: 12, fontStyle: 'italic', fill: '#000', verticalAlign: 'middle' } },
    { type: 'text', x: 574, y: 236, rotation: Math.PI / 2,
      style: { text: '{i|E}{s|0}', align: 'center', verticalAlign: 'middle', fontFamily: SERIF, fontSize: 19, fill: '#000',
        rich: { i: { fontFamily: SERIF, fontSize: 19, fontStyle: 'italic', fill: '#000' },
                s: { fontFamily: SERIF, fontSize: 12, fill: '#000', padding: [9, 0, 0, 0] } } } },
    { type: 'text', x: 989, y: 238, rotation: Math.PI / 2,
      style: { text: 'log {i|\u2112}', align: 'center', verticalAlign: 'middle', fontFamily: SERIF, fontSize: 18, fill: '#000',
        rich: { i: { fontFamily: '"DejaVu Serif", serif', fontSize: 17, fill: '#000' } } } },
    { type: 'text', x: 1001, y: 13, style: { text: '31', fontFamily: SERIF, fontSize: 18, fill: '#000', align: 'center', verticalAlign: 'middle' } },
    { type: 'text', x: 834, y: 112, rotation: 1.094,
      style: { text: 'Capture', fontFamily: SERIF, fontSize: 13, fill: RED, align: 'center', verticalAlign: 'middle' } },
    { type: 'text', x: 857, y: 121, rotation: 1.094,
      style: { text: 'Scattering', fontFamily: SERIF, fontSize: 13, fill: RED, align: 'center', verticalAlign: 'middle' } },
    { type: 'text', x: 713, y: 392,
      style: { text: 'Separatrix: {i|q} = 1,  {i|\u03c7}{s|i} = 0', fontFamily: SERIF, fontSize: 13, fill: RED, verticalAlign: 'middle',
        rich: { i: { fontFamily: SERIF, fontSize: 13, fontStyle: 'italic', fill: RED },
                s: { fontFamily: SERIF, fontSize: 9, fontStyle: 'italic', fill: RED, padding: [6, 0, 0, 0] } } } }
  ],
  series: series
});
</script>
</body>
</html>
